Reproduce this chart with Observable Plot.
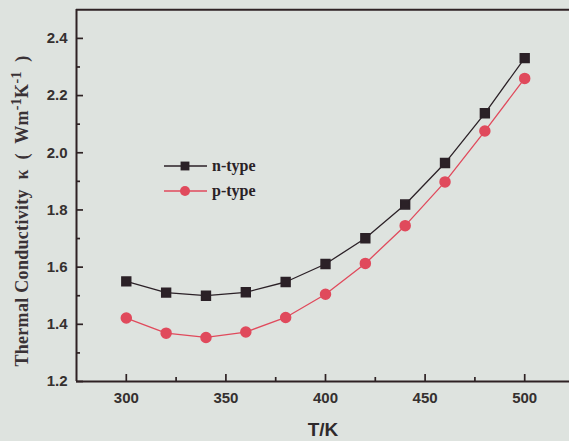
<!DOCTYPE html>
<html>
<head>
<meta charset="utf-8">
<script src="https://cdn.jsdelivr.net/npm/d3@7"></script>
<script src="https://cdn.jsdelivr.net/npm/@observablehq/plot@0.6"></script>
<style>
  html, body { margin: 0; padding: 0; background: #dee3df; overflow: hidden; }
  #wrap { position: relative; width: 569px; height: 441px; }
  .legend { position: absolute; left: 164px; top: 153px; font: bold 16px "Liberation Serif", serif; color: #2a2226; }
  .legend .row { display: flex; align-items: center; height: 25px; }
  .legend svg { margin-right: 5px; }
</style>
</head>
<body>
<div id="wrap"></div>
<script>
// Temperature (K) and thermal conductivity (W m^-1 K^-1) for both carrier types
const temps = [300, 320, 340, 360, 380, 400, 420, 440, 460, 480, 500];
const nType = [1.550, 1.511, 1.500, 1.512, 1.548, 1.611, 1.701, 1.819, 1.964, 2.138, 2.331];
const pType = [1.422, 1.369, 1.354, 1.373, 1.424, 1.505, 1.613, 1.745, 1.898, 2.076, 2.260];

const seriesNames = ["n-type", "p-type"];
const seriesColors = ["#2b2127", "#e04a5c"];
const seriesSymbols = ["square", "circle"];

const xMajor = [300, 350, 400, 450, 500];
const xMinor = [325, 375, 425, 475];
const yMajor = [1.2, 1.4, 1.6, 1.8, 2.0, 2.2, 2.4];
const yMinor = [1.3, 1.5, 1.7, 1.9, 2.1, 2.3];

const rows = [];
temps.forEach((t, i) => {
  rows.push({T: t, k: nType[i], type: seriesNames[0]});
  rows.push({T: t, k: pType[i], type: seriesNames[1]});
});

const axisColor = "#2e2224";
const tickFont = {fontSize: 15, fontWeight: "bold", fontFamily: "Liberation Sans, Arial, sans-serif", fill: "#35302f"};
// tick-only axes (no text); shifted with dx/dy so the ticks point into the plot
const tickOnly = {fill: "none", label: null, stroke: axisColor, strokeWidth: 1.7};

const chart = Plot.plot({
  width: 569,
  height: 441,
  marginLeft: 76,
  marginTop: 9,
  marginBottom: 60,
  marginRight: 0,
  style: {background: "#dee3df"},
  x: {domain: [275, 525], range: [76, 574]},
  y: {domain: [1.2, 2.5], range: [381, 9.3]},
  color: {domain: seriesNames, range: seriesColors},
  symbol: {domain: seriesNames, range: seriesSymbols},
  marks: [
    // frame: left, top and bottom edges
    Plot.ruleX([275], {stroke: axisColor, strokeWidth: 2}),
    Plot.ruleY([2.5], {stroke: axisColor, strokeWidth: 2}),
    Plot.ruleY([1.2], {stroke: axisColor, strokeWidth: 2}),
    // inward major and minor ticks
    Plot.axisX({ticks: xMajor, tickSize: 7, dy: -7, ...tickOnly}),
    Plot.axisX({ticks: xMinor, tickSize: 4, dy: -4, ...tickOnly}),
    Plot.axisY({ticks: yMajor, tickSize: 7, dx: 7, ...tickOnly}),
    Plot.axisY({ticks: yMinor, tickSize: 4, dx: 4, ...tickOnly}),
    // tick labels
    Plot.axisX({ticks: xMajor, tickSize: 0, tickPadding: 11, label: "T/K", labelAnchor: "center", labelArrow: "none", labelOffset: 54, tickFormat: d => d, ...tickFont}),
    Plot.axisY({ticks: yMajor, tickSize: 0, tickPadding: 9, label: null, tickFormat: d3.format(".1f"), ...tickFont}),
    // series
    Plot.line(rows, {x: "T", y: "k", z: "type", stroke: "type", strokeWidth: 1.3}),
    Plot.dot(rows, {x: "T", y: "k", symbol: "type", fill: "type", stroke: "type", r: 5})
  ]
});

document.getElementById("wrap").appendChild(chart);

const svg = d3.select(chart);
// x-axis title styling
svg.selectAll("[aria-label='x-axis label'] text")
  .attr("font-size", 19).attr("font-weight", "bold").attr("fill", "#2f2a2c");

// y-axis title with superscripts
const yt = svg.append("text")
  .attr("transform", "translate(28,211) rotate(-90)")
  .attr("text-anchor", "middle")
  .attr("font-family", "Liberation Serif, serif")
  .attr("font-weight", "bold")
  .attr("font-size", 18)
  .attr("letter-spacing", 0.3)
  .attr("fill", "#3a3236");
yt.append("tspan").text("Thermal Conductivity  κ  (  Wm");
yt.append("tspan").attr("dy", -7).attr("font-size", 14).text("-1");
yt.append("tspan").attr("dy", 7).text("K");
yt.append("tspan").attr("dy", -7).attr("font-size", 14).text("-1");
yt.append("tspan").attr("dy", 7).text("  )");

// legend
const legend = d3.select("#wrap").append("div").attr("class", "legend");
seriesNames.forEach((name, i) => {
  const row = legend.append("div").attr("class", "row");
  const s = row.append("svg").attr("width", 43).attr("height", 14);
  s.append("line").attr("x1", 0).attr("x2", 43).attr("y1", 7).attr("y2", 7)
    .attr("stroke", seriesColors[i]).attr("stroke-width", 1.3);
  const sym = d3.symbol(seriesSymbols[i] === "square" ? d3.symbolSquare : d3.symbolCircle, Math.PI * 25);
  s.append("path").attr("d", sym()).attr("transform", "translate(21,7)").attr("fill", seriesColors[i]);
  row.append("span").text(name);
});
</script>
</body>
</html>
